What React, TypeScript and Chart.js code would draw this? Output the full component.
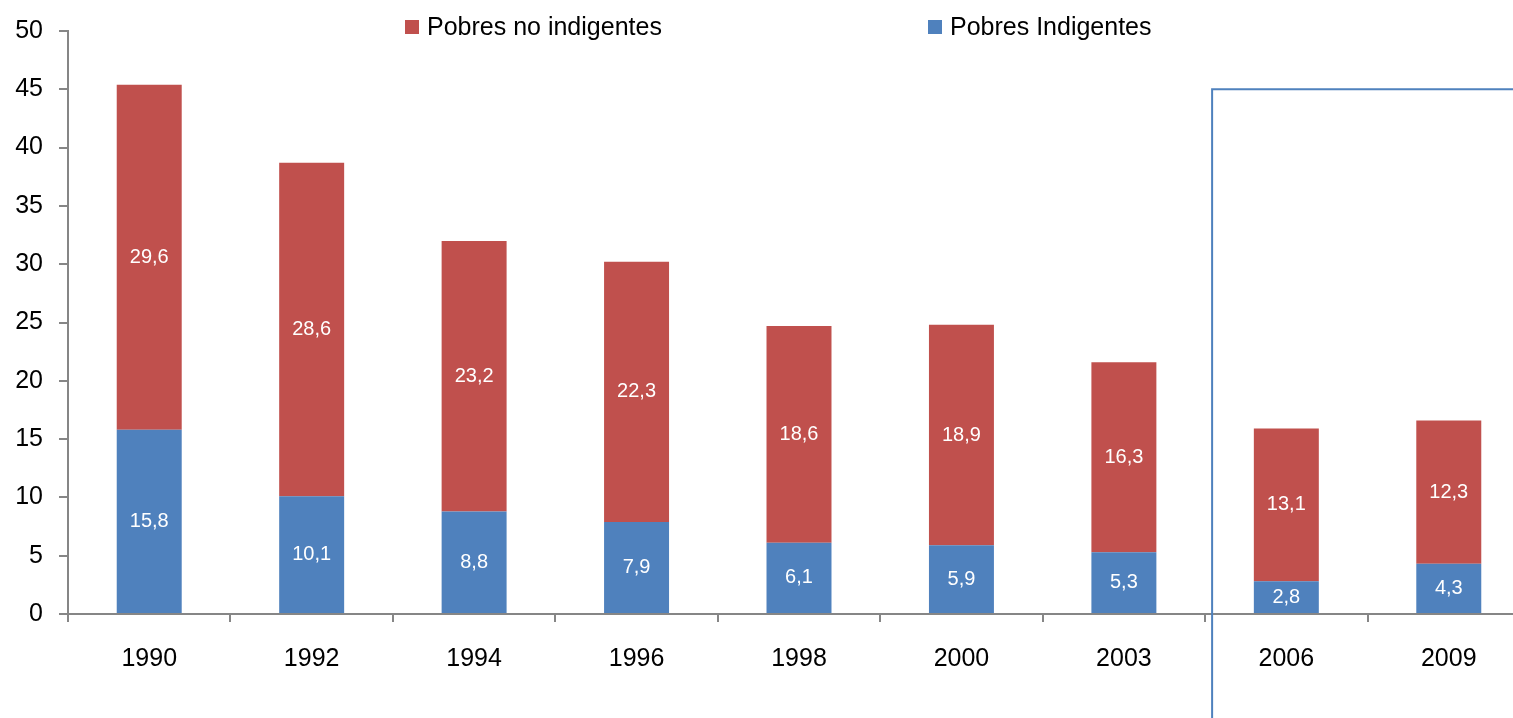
import React, { useEffect, useRef } from "react";
import { Chart, registerables } from "chart.js";

Chart.register(...registerables);

const years = ["1990", "1992", "1994", "1996", "1998", "2000", "2003", "2006", "2009"];
const indigentes = [15.8, 10.1, 8.8, 7.9, 6.1, 5.9, 5.3, 2.8, 4.3];
const noIndigentes = [29.6, 28.6, 23.2, 22.3, 18.6, 18.9, 16.3, 13.1, 12.3];
const seriesLabels = ["Pobres Indigentes", "Pobres no indigentes"];
const seriesColors = ["#4f81bd", "#c0504d"];
const yMin = 0;
const yMax = 50;
const yStep = 5;
const markerValue = 45;
const markerAfterIndex = 6;

const FONT = "'Liberation Sans', Arial, sans-serif";

const valueLabels = {
  id: "valueLabels",
  afterDatasetsDraw(chart: any) {
    const ctx = chart.ctx;
    ctx.save();
    ctx.fillStyle = "#ffffff";
    ctx.font = `20px ${FONT}`;
    ctx.textAlign = "center";
    ctx.textBaseline = "middle";
    chart.data.datasets.forEach((ds: any, di: number) => {
      const meta = chart.getDatasetMeta(di);
      meta.data.forEach((bar: any, i: number) => {
        const v = ds.data[i];
        const yc = (bar.y + bar.base) / 2;
        ctx.fillText(v.toFixed(1).replace(".", ","), bar.x, yc);
      });
    });
    ctx.restore();
  },
};

const marker = {
  id: "marker",
  afterDraw(chart: any) {
    const ctx = chart.ctx;
    const xs = chart.scales.x;
    const ys = chart.scales.y;
    const x = (xs.getPixelForValue(markerAfterIndex) + xs.getPixelForValue(markerAfterIndex + 1)) / 2 + 7;
    const y = ys.getPixelForValue(markerValue);
    ctx.save();
    ctx.strokeStyle = "#4f81bd";
    ctx.lineWidth = 2;
    ctx.beginPath();
    ctx.moveTo(x, chart.height);
    ctx.lineTo(x, y);
    ctx.lineTo(chart.width, y);
    ctx.stroke();
    ctx.restore();
  },
};

const customLegend = {
  id: "customLegend",
  afterDraw(chart: any) {
    const ctx = chart.ctx;
    const items = [
      { label: seriesLabels[1], color: seriesColors[1], x: 405 },
      { label: seriesLabels[0], color: seriesColors[0], x: 928 },
    ];
    ctx.save();
    ctx.font = `25px ${FONT}`;
    ctx.textBaseline = "middle";
    ctx.textAlign = "left";
    items.forEach((it) => {
      ctx.fillStyle = it.color;
      ctx.fillRect(it.x, 20, 14, 14);
      ctx.fillStyle = "#000000";
      ctx.fillText(it.label, it.x + 22, 28);
    });
    ctx.restore();
  },
};

export default function App() {
  const ref = useRef<HTMLCanvasElement>(null);
  useEffect(() => {
    if (!ref.current) return;
    const chart = new Chart(ref.current, {
      type: "bar",
      data: {
        labels: years,
        datasets: [
          { label: seriesLabels[0], data: indigentes, backgroundColor: seriesColors[0] },
          { label: seriesLabels[1], data: noIndigentes, backgroundColor: seriesColors[1] },
        ],
      },
      options: {
        responsive: false,
        animation: false,
        layout: { padding: { top: 30, right: 10, left: 0, bottom: 0 } },
        plugins: { legend: { display: false }, tooltip: { enabled: false } },
        datasets: { bar: { barPercentage: 0.4, categoryPercentage: 1 } },
        scales: {
          x: {
            stacked: true,
            grid: { drawOnChartArea: false, drawTicks: true, tickLength: 8, color: "#868686", lineWidth: 2 },
            border: { color: "#868686", width: 2 },
            ticks: { color: "#000", font: { family: FONT, size: 25 }, padding: 22, maxRotation: 0 },
            afterFit: (s: any) => { s.height = 104; },
          },
          y: {
            stacked: true,
            min: yMin,
            max: yMax,
            grid: { drawOnChartArea: false, drawTicks: true, tickLength: 9, color: "#868686", lineWidth: 2 },
            border: { color: "#868686", width: 2 },
            ticks: { stepSize: yStep, color: "#000", font: { family: FONT, size: 25 }, padding: 16 },
            afterFit: (s: any) => { s.width = 68; },
          },
        },
      },
      plugins: [valueLabels, marker, customLegend],
    });
    return () => chart.destroy();
  }, []);
  return (
    <div style={{ position: "fixed", left: 0, top: 0, width: 1513, height: 718, overflow: "hidden", background: "#fff" }}>
      <canvas ref={ref} width={1540} height={718} style={{ display: "block" }} />
    </div>
  );
}
